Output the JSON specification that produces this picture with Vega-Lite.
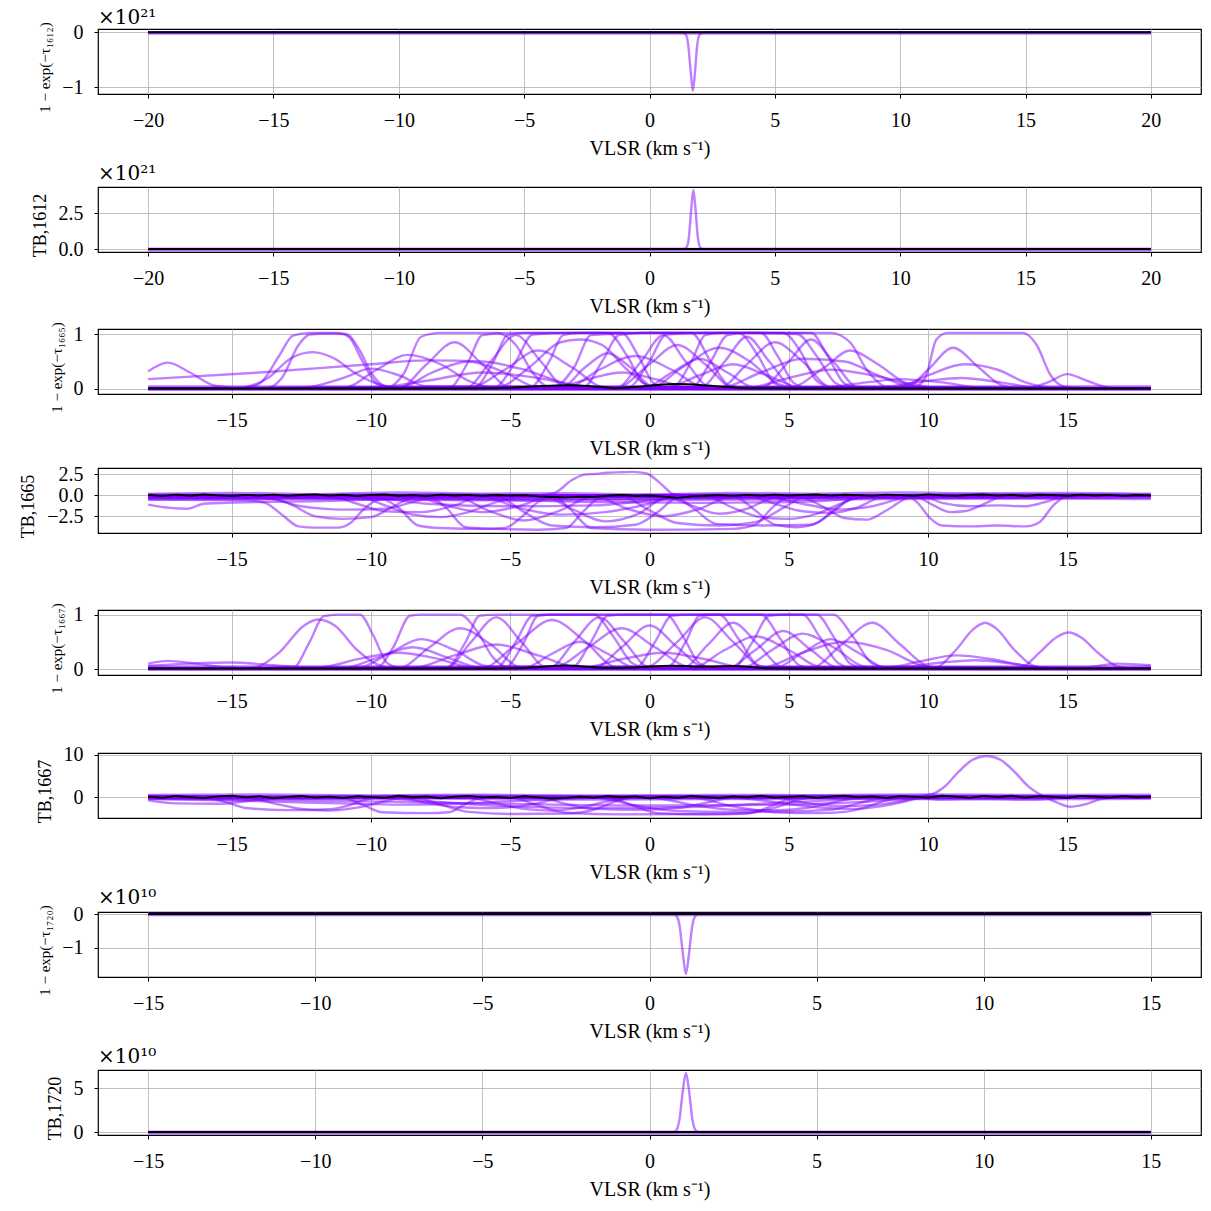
{
  "$schema": "https://vega.github.io/schema/vega-lite/v6.json",
  "autosize": {"type": "none"},
  "padding": {"left": 98, "top": 29, "right": 1113, "bottom": 1182},
  "spacing": 4,
  "config": {
    "font": "Liberation Serif",
    "view": {"stroke": "black", "strokeWidth": 1.2},
    "axis": {
      "grid": true, "gridColor": "#b0b0b0", "gridWidth": 0.8, "domain": false,
      "tickColor": "black", "tickSize": 4, "tickWidth": 1,
      "labelFont": "Liberation Serif", "labelFontSize": 20, "labelColor": "black",
      "labelPadding": 12, "labelFlush": false, "labelOverlap": false,
      "titleFont": "Liberation Serif", "titleFontSize": 20, "titleFontWeight": "normal",
      "titleColor": "black", "titlePadding": 8
    },
    "axisY": {"titleFontSize": 15, "titlePadding": 9, "labelPadding": 11, "titleY": 38},
    "title": {"font": "DejaVu Serif", "fontSize": 20, "fontWeight": "normal", "anchor": "start", "frame": "group", "baseline": "alphabetic", "offset": 2, "color": "black"}
  },
  "datasets": {
    "tau1612": [
      {"s":"obs","x":-20,"y":0},{"s":"obs","x":20,"y":0},
      {"s":"z1","x":-20,"y":0},{"s":"z1","x":20,"y":0},
      {"s":"z2","x":-20,"y":-0.025},{"s":"z2","x":20,"y":-0.025},
      {"s":"a","x":-20,"y":0},{"s":"a","x":1.3,"y":0},{"s":"a","x":1.45,"y":-0.04},{"s":"a","x":1.55,"y":-0.25},{"s":"a","x":1.65,"y":-0.75},{"s":"a","x":1.73,"y":-1.07},{"s":"a","x":1.81,"y":-0.75},{"s":"a","x":1.9,"y":-0.25},{"s":"a","x":2.0,"y":-0.04},{"s":"a","x":2.15,"y":0},{"s":"a","x":20,"y":0}
    ],
    "tb1612": [
      {"s":"obs","x":-20,"y":0},{"s":"obs","x":20,"y":0},
      {"s":"z1","x":-20,"y":0},{"s":"z1","x":20,"y":0},
      {"s":"z2","x":-20,"y":-0.08},{"s":"z2","x":20,"y":-0.08},
      {"s":"a","x":-20,"y":0},{"s":"a","x":1.35,"y":0},{"s":"a","x":1.47,"y":0.1},{"s":"a","x":1.57,"y":0.8},{"s":"a","x":1.67,"y":2.9},{"s":"a","x":1.75,"y":4.13},{"s":"a","x":1.83,"y":2.9},{"s":"a","x":1.93,"y":0.8},{"s":"a","x":2.03,"y":0.1},{"s":"a","x":2.15,"y":0},{"s":"a","x":20,"y":0}
    ],
    "tau1720": [
      {"s":"obs","x":-15,"y":0},{"s":"obs","x":15,"y":0},
      {"s":"z1","x":-15,"y":0},{"s":"z1","x":15,"y":0},
      {"s":"z2","x":-15,"y":-0.03},{"s":"z2","x":15,"y":-0.03},
      {"s":"a","x":-15,"y":0},{"s":"a","x":0.7,"y":0},{"s":"a","x":0.8,"y":-0.05},{"s":"a","x":0.9,"y":-0.35},{"s":"a","x":1.0,"y":-1.2},{"s":"a","x":1.09,"y":-1.79},{"s":"a","x":1.18,"y":-1.2},{"s":"a","x":1.28,"y":-0.35},{"s":"a","x":1.38,"y":-0.05},{"s":"a","x":1.48,"y":0},{"s":"a","x":15,"y":0}
    ],
    "tb1720": [
      {"s":"obs","x":-15,"y":0},{"s":"obs","x":15,"y":0},
      {"s":"z1","x":-15,"y":0},{"s":"z1","x":15,"y":0},
      {"s":"z2","x":-15,"y":-0.15},{"s":"z2","x":15,"y":-0.15},
      {"s":"a","x":-15,"y":0},{"s":"a","x":0.7,"y":0},{"s":"a","x":0.8,"y":0.2},{"s":"a","x":0.9,"y":1.5},{"s":"a","x":1.0,"y":4.8},{"s":"a","x":1.09,"y":6.73},{"s":"a","x":1.18,"y":4.8},{"s":"a","x":1.28,"y":1.5},{"s":"a","x":1.38,"y":0.2},{"s":"a","x":1.48,"y":0},{"s":"a","x":15,"y":0}
    ],
    "tau1665": [
      {"s":"obs","x":-18,"y":0.01},{"s":"obs","x":-7,"y":0.01},{"s":"obs","x":-5.5,"y":0.015},{"s":"obs","x":-4.2,"y":0.045},{"s":"obs","x":-3,"y":0.07},{"s":"obs","x":-1.8,"y":0.04},{"s":"obs","x":-1.2,"y":0.015},{"s":"obs","x":0,"y":0.06},{"s":"obs","x":1,"y":0.09},{"s":"obs","x":2.2,"y":0.06},{"s":"obs","x":3.5,"y":0.015},{"s":"obs","x":5,"y":0.01},{"s":"obs","x":18,"y":0.01},
      {"s":"z1","x":-18,"y":0},{"s":"z1","x":18,"y":0},
      {"s":"z2","x":-18,"y":0.025},{"s":"z2","x":18,"y":0.025},
      {"s":"z3","x":-18,"y":0.045},{"s":"z3","x":18,"y":0.045},
      {"s":"z4","x":-18,"y":-0.015},{"s":"z4","x":18,"y":-0.015},
      {"s":"a","x":-18,"y":0.32},{"s":"a","x":-17.3,"y":0.48},{"s":"a","x":-16.5,"y":0.3},{"s":"a","x":-15.6,"y":0.06},{"s":"a","x":-14.5,"y":0.01},{"s":"a","x":18,"y":0.01},
      {"s":"b","x":-18,"y":0.18},{"s":"b","x":-14,"y":0.3},{"s":"b","x":-10,"y":0.45},{"s":"b","x":-8,"y":0.52},{"s":"b","x":-6,"y":0.5},{"s":"b","x":-4.5,"y":0.35},{"s":"b","x":-3,"y":0.1},{"s":"b","x":-1.5,"y":0.01},{"s":"b","x":18,"y":0.01},
      {"s":"c","x":-18,"y":0.01},{"s":"c","x":-14.6,"y":0.01},{"s":"c","x":-14,"y":0.1},{"s":"c","x":-13.3,"y":0.6},{"s":"c","x":-12.8,"y":0.97},{"s":"c","x":-12.2,"y":1.02},{"s":"c","x":-11.2,"y":1.02},{"s":"c","x":-10.8,"y":0.95},{"s":"c","x":-10.3,"y":0.5},{"s":"c","x":-9.8,"y":0.1},{"s":"c","x":-9.2,"y":0.01},{"s":"c","x":18,"y":0.01},
      {"s":"d","x":-18,"y":0.01},{"s":"d","x":-13.8,"y":0.01},{"s":"d","x":-13.2,"y":0.2},{"s":"d","x":-12.6,"y":0.8},{"s":"d","x":-12.2,"y":0.99},{"s":"d","x":-11.5,"y":1.01},{"s":"d","x":-10.9,"y":1.0},{"s":"d","x":-10.4,"y":0.7},{"s":"d","x":-10,"y":0.3},{"s":"d","x":-9.5,"y":0.05},{"s":"d","x":-9,"y":0.01},{"s":"d","x":18,"y":0.01},
      {"s":"e","x":-18,"y":0.01},{"s":"e","x":-14.8,"y":0.02},{"s":"e","x":-13.7,"y":0.2},{"s":"e","x":-12.9,"y":0.55},{"s":"e","x":-12.1,"y":0.67},{"s":"e","x":-11.3,"y":0.55},{"s":"e","x":-10.6,"y":0.3},{"s":"e","x":-9.8,"y":0.1},{"s":"e","x":-9,"y":0.02},{"s":"e","x":18,"y":0.01},
      {"s":"f","x":-18,"y":0.01},{"s":"f","x":-12.5,"y":0.02},{"s":"f","x":-11,"y":0.2},{"s":"f","x":-10,"y":0.37},{"s":"f","x":-9,"y":0.25},{"s":"f","x":-8,"y":0.05},{"s":"f","x":18,"y":0.01},
      {"s":"g","x":-18,"y":0.01},{"s":"g","x":-11,"y":0.02},{"s":"g","x":-9.8,"y":0.35},{"s":"g","x":-8.7,"y":0.62},{"s":"g","x":-7.5,"y":0.45},{"s":"g","x":-6.5,"y":0.15},{"s":"g","x":-5.5,"y":0.02},{"s":"g","x":18,"y":0.01},
      {"s":"h","x":-18,"y":0.01},{"s":"h","x":-9.5,"y":0.01},{"s":"h","x":-8.8,"y":0.3},{"s":"h","x":-8.2,"y":0.95},{"s":"h","x":-7.5,"y":1.02},{"s":"h","x":-5.5,"y":1.02},{"s":"h","x":-4.8,"y":0.8},{"s":"h","x":-4.2,"y":0.3},{"s":"h","x":-3.6,"y":0.03},{"s":"h","x":18,"y":0.01},
      {"s":"i","x":-18,"y":0.01},{"s":"i","x":-7.2,"y":0.02},{"s":"i","x":-6.5,"y":0.5},{"s":"i","x":-6,"y":0.98},{"s":"i","x":-5,"y":1.02},{"s":"i","x":-1.5,"y":1.02},{"s":"i","x":-0.8,"y":0.6},{"s":"i","x":-0.2,"y":0.1},{"s":"i","x":0.5,"y":0.01},{"s":"i","x":18,"y":0.01},
      {"s":"j","x":-18,"y":0.01},{"s":"j","x":-5.6,"y":0.02},{"s":"j","x":-4.8,"y":0.5},{"s":"j","x":-4.2,"y":0.99},{"s":"j","x":-3,"y":1.02},{"s":"j","x":1.5,"y":1.02},{"s":"j","x":2.2,"y":0.5},{"s":"j","x":2.9,"y":0.05},{"s":"j","x":3.5,"y":0.01},{"s":"j","x":18,"y":0.01},
      {"s":"k","x":-18,"y":0.01},{"s":"k","x":-3.5,"y":0.02},{"s":"k","x":-2.7,"y":0.4},{"s":"k","x":-2.1,"y":0.98},{"s":"k","x":0,"y":1.02},{"s":"k","x":4.8,"y":1.02},{"s":"k","x":5.4,"y":0.7},{"s":"k","x":6,"y":0.15},{"s":"k","x":6.7,"y":0.01},{"s":"k","x":18,"y":0.01},
      {"s":"l","x":-18,"y":0.01},{"s":"l","x":-0.8,"y":0.02},{"s":"l","x":0,"y":0.5},{"s":"l","x":0.6,"y":0.99},{"s":"l","x":2,"y":1.02},{"s":"l","x":6.5,"y":1.02},{"s":"l","x":7.2,"y":0.85},{"s":"l","x":7.8,"y":0.35},{"s":"l","x":8.5,"y":0.04},{"s":"l","x":9.2,"y":0.01},{"s":"l","x":18,"y":0.01},
      {"s":"m","x":-18,"y":0.01},{"s":"m","x":-5.5,"y":0.02},{"s":"m","x":-4.3,"y":0.4},{"s":"m","x":-3.2,"y":0.85},{"s":"m","x":-2.5,"y":0.9},{"s":"m","x":-1.7,"y":0.8},{"s":"m","x":-0.8,"y":0.35},{"s":"m","x":0.2,"y":0.03},{"s":"m","x":18,"y":0.01},
      {"s":"n","x":-18,"y":0.01},{"s":"n","x":0,"y":0.02},{"s":"n","x":1.2,"y":0.4},{"s":"n","x":2.5,"y":0.75},{"s":"n","x":3.6,"y":0.5},{"s":"n","x":4.6,"y":0.1},{"s":"n","x":5.5,"y":0.01},{"s":"n","x":18,"y":0.01},
      {"s":"o","x":-18,"y":0.01},{"s":"o","x":1.8,"y":0.02},{"s":"o","x":2.7,"y":0.5},{"s":"o","x":3.5,"y":0.95},{"s":"o","x":4.3,"y":0.5},{"s":"o","x":5.2,"y":0.03},{"s":"o","x":18,"y":0.01},
      {"s":"p","x":-18,"y":0.01},{"s":"p","x":-3,"y":0.02},{"s":"p","x":-1.8,"y":0.35},{"s":"p","x":-0.5,"y":0.6},{"s":"p","x":0.8,"y":0.35},{"s":"p","x":2,"y":0.03},{"s":"p","x":18,"y":0.01},
      {"s":"q","x":-18,"y":0.01},{"s":"q","x":2.5,"y":0.02},{"s":"q","x":4,"y":0.3},{"s":"q","x":5.5,"y":0.55},{"s":"q","x":7,"y":0.5},{"s":"q","x":8.2,"y":0.25},{"s":"q","x":9.3,"y":0.05},{"s":"q","x":10,"y":0.01},{"s":"q","x":18,"y":0.01},
      {"s":"r","x":-18,"y":0.01},{"s":"r","x":-6.6,"y":0.02},{"s":"r","x":-5.7,"y":0.5},{"s":"r","x":-4.8,"y":0.98},{"s":"r","x":-3.9,"y":0.5},{"s":"r","x":-3,"y":0.03},{"s":"r","x":18,"y":0.01},
      {"s":"t","x":-18,"y":0.01},{"s":"t","x":-10,"y":0.02},{"s":"t","x":-8,"y":0.15},{"s":"t","x":-6,"y":0.3},{"s":"t","x":-4,"y":0.2},{"s":"t","x":-2,"y":0.02},{"s":"t","x":18,"y":0.01},
      {"s":"u","x":-18,"y":0.01},{"s":"u","x":-1.2,"y":0.02},{"s":"u","x":0,"y":0.45},{"s":"u","x":1,"y":0.8},{"s":"u","x":2,"y":0.45},{"s":"u","x":3,"y":0.03},{"s":"u","x":18,"y":0.01},
      {"s":"v","x":-18,"y":0.01},{"s":"v","x":1.5,"y":0.02},{"s":"v","x":2.2,"y":0.5},{"s":"v","x":2.8,"y":0.98},{"s":"v","x":3.5,"y":1.02},{"s":"v","x":5.3,"y":1.0},{"s":"v","x":6,"y":0.6},{"s":"v","x":6.7,"y":0.1},{"s":"v","x":7.3,"y":0.01},{"s":"v","x":18,"y":0.01},
      {"s":"w","x":-18,"y":0.01},{"s":"w","x":9.4,"y":0.01},{"s":"w","x":9.9,"y":0.2},{"s":"w","x":10.3,"y":0.9},{"s":"w","x":10.7,"y":1.02},{"s":"w","x":13.4,"y":1.02},{"s":"w","x":13.9,"y":0.8},{"s":"w","x":14.4,"y":0.25},{"s":"w","x":14.9,"y":0.04},{"s":"w","x":15.5,"y":0.01},{"s":"w","x":18,"y":0.01},
      {"s":"x","x":-18,"y":0.01},{"s":"x","x":9.2,"y":0.02},{"s":"x","x":10,"y":0.35},{"s":"x","x":10.9,"y":0.75},{"s":"x","x":11.8,"y":0.4},{"s":"x","x":12.6,"y":0.08},{"s":"x","x":13.3,"y":0.01},{"s":"x","x":18,"y":0.01},
      {"s":"y","x":-18,"y":0.01},{"s":"y","x":8.8,"y":0.02},{"s":"y","x":10,"y":0.25},{"s":"y","x":11.3,"y":0.45},{"s":"y","x":12.5,"y":0.35},{"s":"y","x":13.5,"y":0.12},{"s":"y","x":14.5,"y":0.02},{"s":"y","x":18,"y":0.01},
      {"s":"yy","x":-18,"y":0.01},{"s":"yy","x":8,"y":0.02},{"s":"yy","x":10,"y":0.15},{"s":"yy","x":11.2,"y":0.2},{"s":"yy","x":12.6,"y":0.12},{"s":"yy","x":14,"y":0.02},{"s":"yy","x":18,"y":0.01},
      {"s":"zz","x":-18,"y":0.01},{"s":"zz","x":13.5,"y":0.01},{"s":"zz","x":14.3,"y":0.12},{"s":"zz","x":15,"y":0.27},{"s":"zz","x":15.7,"y":0.15},{"s":"zz","x":16.6,"y":0.02},{"s":"zz","x":18,"y":0.01},
      {"s":"aa","x":-18,"y":0.01},{"s":"aa","x":5,"y":0.02},{"s":"aa","x":6.3,"y":0.4},{"s":"aa","x":7.2,"y":0.7},{"s":"aa","x":8.2,"y":0.45},{"s":"aa","x":9.3,"y":0.08},{"s":"aa","x":10.2,"y":0.01},{"s":"aa","x":18,"y":0.01},
      {"s":"ab","x":-18,"y":0.01},{"s":"ab","x":3.5,"y":0.02},{"s":"ab","x":5,"y":0.2},{"s":"ab","x":6.5,"y":0.35},{"s":"ab","x":8,"y":0.25},{"s":"ab","x":9.5,"y":0.08},{"s":"ab","x":10.5,"y":0.01},{"s":"ab","x":18,"y":0.01},
      {"s":"ac","x":-18,"y":0.01},{"s":"ac","x":6,"y":0.02},{"s":"ac","x":7.8,"y":0.12},{"s":"ac","x":9,"y":0.18},{"s":"ac","x":10.5,"y":0.12},{"s":"ac","x":12,"y":0.02},{"s":"ac","x":18,"y":0.01},
      {"s":"ad","x":-18,"y":0.01},{"s":"ad","x":-2.4,"y":0.02},{"s":"ad","x":-1.7,"y":0.5},{"s":"ad","x":-1.1,"y":0.98},{"s":"ad","x":-0.3,"y":1.02},{"s":"ad","x":3.2,"y":1.02},{"s":"ad","x":3.9,"y":0.6},{"s":"ad","x":4.5,"y":0.1},{"s":"ad","x":5.1,"y":0.01},{"s":"ad","x":18,"y":0.01},
      {"s":"ae","x":-18,"y":0.01},{"s":"ae","x":-9,"y":0.02},{"s":"ae","x":-7.8,"y":0.3},{"s":"ae","x":-6.5,"y":0.5},{"s":"ae","x":-5.2,"y":0.3},{"s":"ae","x":-4,"y":0.03},{"s":"ae","x":18,"y":0.01},
      {"s":"af","x":-18,"y":0.01},{"s":"af","x":2.5,"y":0.02},{"s":"af","x":3.5,"y":0.45},{"s":"af","x":4.5,"y":0.85},{"s":"af","x":5.5,"y":0.5},{"s":"af","x":6.5,"y":0.04},{"s":"af","x":18,"y":0.01},
      {"s":"ag","x":-18,"y":0.01},{"s":"ag","x":-3.2,"y":0.02},{"s":"ag","x":-2.3,"y":0.4},{"s":"ag","x":-1.5,"y":0.65},{"s":"ag","x":-0.7,"y":0.4},{"s":"ag","x":0.2,"y":0.02},{"s":"ag","x":18,"y":0.01},
      {"s":"ah","x":-18,"y":0.01},{"s":"ah","x":-6.3,"y":0.02},{"s":"ah","x":-5.6,"y":0.5},{"s":"ah","x":-5.1,"y":0.98},{"s":"ah","x":-4.5,"y":1.02},{"s":"ah","x":-1,"y":1.02},{"s":"ah","x":-0.4,"y":0.6},{"s":"ah","x":0.2,"y":0.08},{"s":"ah","x":0.8,"y":0.01},{"s":"ah","x":18,"y":0.01},
      {"s":"ai","x":-18,"y":0.01},{"s":"ai","x":-1.2,"y":0.02},{"s":"ai","x":-0.3,"y":0.5},{"s":"ai","x":0.5,"y":0.98},{"s":"ai","x":1.3,"y":0.5},{"s":"ai","x":2.2,"y":0.03},{"s":"ai","x":18,"y":0.01},
      {"s":"aj","x":-18,"y":0.01},{"s":"aj","x":-6.5,"y":0.02},{"s":"aj","x":-5.2,"y":0.35},{"s":"aj","x":-4,"y":0.7},{"s":"aj","x":-2.8,"y":0.4},{"s":"aj","x":-1.6,"y":0.03},{"s":"aj","x":18,"y":0.01},
      {"s":"ak","x":-18,"y":0.01},{"s":"ak","x":0.8,"y":0.02},{"s":"ak","x":1.5,"y":0.5},{"s":"ak","x":2,"y":0.98},{"s":"ak","x":2.6,"y":1.02},{"s":"ak","x":5.8,"y":1.02},{"s":"ak","x":6.4,"y":0.6},{"s":"ak","x":7,"y":0.1},{"s":"ak","x":7.6,"y":0.01},{"s":"ak","x":18,"y":0.01},
      {"s":"al","x":-18,"y":0.01},{"s":"al","x":0.5,"y":0.02},{"s":"al","x":1.8,"y":0.25},{"s":"al","x":3,"y":0.45},{"s":"al","x":4.2,"y":0.25},{"s":"al","x":5.5,"y":0.02},{"s":"al","x":18,"y":0.01},
      {"s":"am","x":-18,"y":0.01},{"s":"am","x":4,"y":0.02},{"s":"am","x":5,"y":0.5},{"s":"am","x":5.8,"y":0.9},{"s":"am","x":6.6,"y":0.5},{"s":"am","x":7.5,"y":0.03},{"s":"am","x":18,"y":0.01},
      {"s":"an","x":-18,"y":0.01},{"s":"an","x":-9,"y":0.02},{"s":"an","x":-8,"y":0.45},{"s":"an","x":-7,"y":0.85},{"s":"an","x":-6,"y":0.45},{"s":"an","x":-5,"y":0.03},{"s":"an","x":18,"y":0.01},
      {"s":"ao","x":-18,"y":0.01},{"s":"ao","x":-4.3,"y":0.02},{"s":"ao","x":-3.6,"y":0.5},{"s":"ao","x":-3.1,"y":0.98},{"s":"ao","x":-2.5,"y":1.02},{"s":"ao","x":4,"y":1.02},{"s":"ao","x":4.6,"y":0.6},{"s":"ao","x":5.2,"y":0.1},{"s":"ao","x":5.8,"y":0.01},{"s":"ao","x":18,"y":0.01},
      {"s":"ap","x":-18,"y":0.01},{"s":"ap","x":-3.5,"y":0.02},{"s":"ap","x":-2.2,"y":0.18},{"s":"ap","x":-1,"y":0.3},{"s":"ap","x":0.2,"y":0.18},{"s":"ap","x":1.5,"y":0.02},{"s":"ap","x":18,"y":0.01},
      {"s":"aq","x":-18,"y":0.01},{"s":"aq","x":-0.2,"y":0.02},{"s":"aq","x":0.8,"y":0.3},{"s":"aq","x":1.8,"y":0.55},{"s":"aq","x":2.8,"y":0.3},{"s":"aq","x":3.8,"y":0.02},{"s":"aq","x":18,"y":0.01}
    ],
    "tau1667": [
      {"s":"obs","x":-18,"y":0.01},{"s":"obs","x":-5.5,"y":0.01},{"s":"obs","x":-4.5,"y":0.02},{"s":"obs","x":-3,"y":0.065},{"s":"obs","x":-1.5,"y":0.02},{"s":"obs","x":-0.5,"y":0.03},{"s":"obs","x":0.8,"y":0.06},{"s":"obs","x":2.1,"y":0.045},{"s":"obs","x":3,"y":0.055},{"s":"obs","x":4.2,"y":0.015},{"s":"obs","x":5.5,"y":0.01},{"s":"obs","x":18,"y":0.01},
      {"s":"z1","x":-18,"y":0},{"s":"z1","x":18,"y":0},
      {"s":"z2","x":-18,"y":0.025},{"s":"z2","x":18,"y":0.025},
      {"s":"z3","x":-18,"y":0.045},{"s":"z3","x":18,"y":0.045},
      {"s":"z4","x":-18,"y":-0.015},{"s":"z4","x":18,"y":-0.015},
      {"s":"a","x":-18,"y":0.1},{"s":"a","x":-17.3,"y":0.15},{"s":"a","x":-16.3,"y":0.1},{"s":"a","x":-15.2,"y":0.03},{"s":"a","x":-14,"y":0.01},{"s":"a","x":18,"y":0.01},
      {"s":"b","x":-18,"y":0.06},{"s":"b","x":-16.5,"y":0.1},{"s":"b","x":-15,"y":0.12},{"s":"b","x":-13.5,"y":0.07},{"s":"b","x":-12,"y":0.02},{"s":"b","x":18,"y":0.01},
      {"s":"c","x":-18,"y":0.01},{"s":"c","x":-14.3,"y":0.02},{"s":"c","x":-13.3,"y":0.3},{"s":"c","x":-12.4,"y":0.8},{"s":"c","x":-11.9,"y":0.91},{"s":"c","x":-11.3,"y":0.8},{"s":"c","x":-10.5,"y":0.35},{"s":"c","x":-9.6,"y":0.05},{"s":"c","x":-9,"y":0.01},{"s":"c","x":18,"y":0.01},
      {"s":"d","x":-18,"y":0.01},{"s":"d","x":-12.8,"y":0.02},{"s":"d","x":-12.2,"y":0.5},{"s":"d","x":-11.7,"y":0.97},{"s":"d","x":-11.2,"y":1.0},{"s":"d","x":-10.4,"y":1.0},{"s":"d","x":-9.9,"y":0.6},{"s":"d","x":-9.4,"y":0.1},{"s":"d","x":-8.8,"y":0.01},{"s":"d","x":18,"y":0.01},
      {"s":"e","x":-18,"y":0.01},{"s":"e","x":-12,"y":0.02},{"s":"e","x":-10.3,"y":0.2},{"s":"e","x":-9,"y":0.3},{"s":"e","x":-7.7,"y":0.2},{"s":"e","x":-6.3,"y":0.03},{"s":"e","x":18,"y":0.01},
      {"s":"f","x":-18,"y":0.01},{"s":"f","x":-9.8,"y":0.02},{"s":"f","x":-9.2,"y":0.4},{"s":"f","x":-8.6,"y":0.98},{"s":"f","x":-8.2,"y":1.0},{"s":"f","x":-6.8,"y":1.0},{"s":"f","x":-6.2,"y":0.7},{"s":"f","x":-5.6,"y":0.2},{"s":"f","x":-5,"y":0.02},{"s":"f","x":18,"y":0.01},
      {"s":"g","x":-18,"y":0.01},{"s":"g","x":-10.5,"y":0.02},{"s":"g","x":-9.3,"y":0.3},{"s":"g","x":-8.2,"y":0.55},{"s":"g","x":-7,"y":0.35},{"s":"g","x":-5.8,"y":0.05},{"s":"g","x":18,"y":0.01},
      {"s":"h","x":-18,"y":0.01},{"s":"h","x":-7.3,"y":0.02},{"s":"h","x":-6.6,"y":0.5},{"s":"h","x":-6.1,"y":0.98},{"s":"h","x":-5.5,"y":1.0},{"s":"h","x":-2,"y":1.0},{"s":"h","x":-1.3,"y":0.6},{"s":"h","x":-0.6,"y":0.1},{"s":"h","x":0,"y":0.01},{"s":"h","x":18,"y":0.01},
      {"s":"i","x":-18,"y":0.01},{"s":"i","x":-5.5,"y":0.02},{"s":"i","x":-4.8,"y":0.5},{"s":"i","x":-4.2,"y":0.98},{"s":"i","x":-3.5,"y":1.0},{"s":"i","x":2.5,"y":1.0},{"s":"i","x":3.2,"y":0.55},{"s":"i","x":3.9,"y":0.07},{"s":"i","x":4.5,"y":0.01},{"s":"i","x":18,"y":0.01},
      {"s":"j","x":-18,"y":0.01},{"s":"j","x":-2.8,"y":0.02},{"s":"j","x":-2.1,"y":0.5},{"s":"j","x":-1.5,"y":0.98},{"s":"j","x":-0.8,"y":1.0},{"s":"j","x":5.5,"y":1.0},{"s":"j","x":6.1,"y":0.6},{"s":"j","x":6.8,"y":0.1},{"s":"j","x":7.4,"y":0.01},{"s":"j","x":18,"y":0.01},
      {"s":"k","x":-18,"y":0.01},{"s":"k","x":-0.5,"y":0.02},{"s":"k","x":0.2,"y":0.5},{"s":"k","x":0.8,"y":0.98},{"s":"k","x":1.5,"y":1.0},{"s":"k","x":4,"y":1.0},{"s":"k","x":4.7,"y":0.55},{"s":"k","x":5.4,"y":0.06},{"s":"k","x":6,"y":0.01},{"s":"k","x":18,"y":0.01},
      {"s":"l","x":-18,"y":0.01},{"s":"l","x":-6,"y":0.02},{"s":"l","x":-4.8,"y":0.45},{"s":"l","x":-3.5,"y":0.9},{"s":"l","x":-2.3,"y":0.5},{"s":"l","x":-1.2,"y":0.04},{"s":"l","x":18,"y":0.01},
      {"s":"m","x":-18,"y":0.01},{"s":"m","x":-3.5,"y":0.02},{"s":"m","x":-2.2,"y":0.4},{"s":"m","x":-1,"y":0.75},{"s":"m","x":0.2,"y":0.4},{"s":"m","x":1.5,"y":0.03},{"s":"m","x":18,"y":0.01},
      {"s":"n","x":-18,"y":0.01},{"s":"n","x":-0.2,"y":0.02},{"s":"n","x":1,"y":0.5},{"s":"n","x":2,"y":0.95},{"s":"n","x":3,"y":0.5},{"s":"n","x":4.1,"y":0.03},{"s":"n","x":18,"y":0.01},
      {"s":"o","x":-18,"y":0.01},{"s":"o","x":1.5,"y":0.02},{"s":"o","x":2.7,"y":0.35},{"s":"o","x":3.8,"y":0.6},{"s":"o","x":5,"y":0.35},{"s":"o","x":6.2,"y":0.03},{"s":"o","x":18,"y":0.01},
      {"s":"p","x":-18,"y":0.01},{"s":"p","x":5.8,"y":0.02},{"s":"p","x":6.9,"y":0.45},{"s":"p","x":8,"y":0.85},{"s":"p","x":9,"y":0.45},{"s":"p","x":10,"y":0.05},{"s":"p","x":10.6,"y":0.01},{"s":"p","x":18,"y":0.01},
      {"s":"q","x":-18,"y":0.01},{"s":"q","x":3,"y":0.02},{"s":"q","x":3.7,"y":0.5},{"s":"q","x":4.3,"y":0.98},{"s":"q","x":5,"y":1.0},{"s":"q","x":6.6,"y":1.0},{"s":"q","x":7.3,"y":0.6},{"s":"q","x":8,"y":0.1},{"s":"q","x":8.7,"y":0.01},{"s":"q","x":18,"y":0.01},
      {"s":"r","x":-18,"y":0.01},{"s":"r","x":-8.5,"y":0.02},{"s":"r","x":-7,"y":0.25},{"s":"r","x":-5.5,"y":0.45},{"s":"r","x":-4,"y":0.25},{"s":"r","x":-2.5,"y":0.02},{"s":"r","x":18,"y":0.01},
      {"s":"t","x":-18,"y":0.01},{"s":"t","x":3.3,"y":0.02},{"s":"t","x":4.4,"y":0.35},{"s":"t","x":5.5,"y":0.65},{"s":"t","x":6.6,"y":0.4},{"s":"t","x":7.8,"y":0.04},{"s":"t","x":18,"y":0.01},
      {"s":"u","x":-18,"y":0.01},{"s":"u","x":-2.5,"y":0.02},{"s":"u","x":-1,"y":0.18},{"s":"u","x":0.5,"y":0.3},{"s":"u","x":2,"y":0.18},{"s":"u","x":3.5,"y":0.02},{"s":"u","x":18,"y":0.01},
      {"s":"v","x":-18,"y":0.01},{"s":"v","x":4,"y":0.02},{"s":"v","x":5.5,"y":0.3},{"s":"v","x":7,"y":0.5},{"s":"v","x":8.5,"y":0.35},{"s":"v","x":9.8,"y":0.06},{"s":"v","x":10.6,"y":0.01},{"s":"v","x":18,"y":0.01},
      {"s":"w","x":-18,"y":0.01},{"s":"w","x":-9,"y":0.02},{"s":"w","x":-7.9,"y":0.4},{"s":"w","x":-6.8,"y":0.75},{"s":"w","x":-5.7,"y":0.45},{"s":"w","x":-4.6,"y":0.03},{"s":"w","x":18,"y":0.01},
      {"s":"x","x":-18,"y":0.01},{"s":"x","x":10.2,"y":0.02},{"s":"x","x":11,"y":0.35},{"s":"x","x":11.6,"y":0.72},{"s":"x","x":12.05,"y":0.85},{"s":"x","x":12.5,"y":0.72},{"s":"x","x":13.1,"y":0.35},{"s":"x","x":13.9,"y":0.04},{"s":"x","x":14.5,"y":0.01},{"s":"x","x":18,"y":0.01},
      {"s":"y","x":-18,"y":0.01},{"s":"y","x":13.3,"y":0.02},{"s":"y","x":14,"y":0.3},{"s":"y","x":14.6,"y":0.58},{"s":"y","x":15.05,"y":0.67},{"s":"y","x":15.5,"y":0.58},{"s":"y","x":16.1,"y":0.3},{"s":"y","x":16.8,"y":0.05},{"s":"y","x":17.4,"y":0.01},{"s":"y","x":18,"y":0.01},
      {"s":"yy","x":-18,"y":0.01},{"s":"yy","x":8.5,"y":0.03},{"s":"yy","x":9.8,"y":0.15},{"s":"yy","x":11,"y":0.25},{"s":"yy","x":12.3,"y":0.18},{"s":"yy","x":13.5,"y":0.06},{"s":"yy","x":14.5,"y":0.02},{"s":"yy","x":18,"y":0.01},
      {"s":"zz","x":-18,"y":0.01},{"s":"zz","x":9,"y":0.04},{"s":"zz","x":10.5,"y":0.12},{"s":"zz","x":11.7,"y":0.16},{"s":"zz","x":13,"y":0.1},{"s":"zz","x":14,"y":0.03},{"s":"zz","x":18,"y":0.01},
      {"s":"aa","x":-18,"y":0.01},{"s":"aa","x":15.5,"y":0.02},{"s":"aa","x":16.8,"y":0.1},{"s":"aa","x":18,"y":0.07},
      {"s":"ah","x":-18,"y":0.01},{"s":"ah","x":-5.2,"y":0.02},{"s":"ah","x":-4.5,"y":0.5},{"s":"ah","x":-4,"y":0.98},{"s":"ah","x":-3.4,"y":1.0},{"s":"ah","x":0.6,"y":1.0},{"s":"ah","x":1.2,"y":0.6},{"s":"ah","x":1.8,"y":0.1},{"s":"ah","x":2.4,"y":0.01},{"s":"ah","x":18,"y":0.01},
      {"s":"ai","x":-18,"y":0.01},{"s":"ai","x":-7.3,"y":0.02},{"s":"ai","x":-6.4,"y":0.5},{"s":"ai","x":-5.5,"y":0.95},{"s":"ai","x":-4.6,"y":0.5},{"s":"ai","x":-3.7,"y":0.03},{"s":"ai","x":18,"y":0.01},
      {"s":"aj","x":-18,"y":0.01},{"s":"aj","x":-2,"y":0.02},{"s":"aj","x":-1,"y":0.4},{"s":"aj","x":0,"y":0.8},{"s":"aj","x":1,"y":0.4},{"s":"aj","x":2,"y":0.03},{"s":"aj","x":18,"y":0.01},
      {"s":"ak","x":-18,"y":0.01},{"s":"ak","x":2.8,"y":0.02},{"s":"ak","x":3.8,"y":0.35},{"s":"ak","x":4.8,"y":0.7},{"s":"ak","x":5.8,"y":0.35},{"s":"ak","x":6.8,"y":0.02},{"s":"ak","x":18,"y":0.01},
      {"s":"al","x":-18,"y":0.01},{"s":"al","x":0.6,"y":0.02},{"s":"al","x":1.3,"y":0.5},{"s":"al","x":1.8,"y":0.98},{"s":"al","x":2.4,"y":1.0},{"s":"al","x":6,"y":1.0},{"s":"al","x":6.6,"y":0.6},{"s":"al","x":7.2,"y":0.1},{"s":"al","x":7.8,"y":0.01},{"s":"al","x":18,"y":0.01},
      {"s":"am","x":-18,"y":0.01},{"s":"am","x":-4.5,"y":0.02},{"s":"am","x":-3.5,"y":0.28},{"s":"am","x":-2.5,"y":0.5},{"s":"am","x":-1.5,"y":0.28},{"s":"am","x":-0.5,"y":0.02},{"s":"am","x":18,"y":0.01},
      {"s":"an","x":-18,"y":0.01},{"s":"an","x":1.2,"y":0.02},{"s":"an","x":2.1,"y":0.45},{"s":"an","x":3,"y":0.85},{"s":"an","x":3.9,"y":0.45},{"s":"an","x":4.8,"y":0.03},{"s":"an","x":18,"y":0.01},
      {"s":"ao","x":-18,"y":0.01},{"s":"ao","x":-11,"y":0.02},{"s":"ao","x":-9.8,"y":0.2},{"s":"ao","x":-8.5,"y":0.4},{"s":"ao","x":-7.2,"y":0.2},{"s":"ao","x":-6,"y":0.02},{"s":"ao","x":18,"y":0.01},
      {"s":"ap","x":-18,"y":0.01},{"s":"ap","x":4.5,"y":0.02},{"s":"ap","x":5.5,"y":0.3},{"s":"ap","x":6.5,"y":0.55},{"s":"ap","x":7.5,"y":0.3},{"s":"ap","x":8.5,"y":0.02},{"s":"ap","x":18,"y":0.01},
      {"s":"aq","x":-18,"y":0.01},{"s":"aq","x":-3.6,"y":0.02},{"s":"aq","x":-2.7,"y":0.5},{"s":"aq","x":-1.8,"y":0.95},{"s":"aq","x":-0.9,"y":0.5},{"s":"aq","x":0,"y":0.03},{"s":"aq","x":18,"y":0.01}
    ],
    "tb1665": [
      {"s":"obs","x":-18,"y":0.05},{"s":"obs","x":-17.5,"y":-0.1},{"s":"obs","x":-17,"y":0.08},{"s":"obs","x":-16.5,"y":-0.05},{"s":"obs","x":-16,"y":0.1},{"s":"obs","x":-15.5,"y":0},{"s":"obs","x":-15,"y":-0.08},{"s":"obs","x":-14.5,"y":0.06},{"s":"obs","x":-14,"y":-0.03},{"s":"obs","x":-13.5,"y":0.09},{"s":"obs","x":-13,"y":-0.06},{"s":"obs","x":-12.5,"y":0.04},{"s":"obs","x":-12,"y":0.12},{"s":"obs","x":-11.5,"y":-0.04},{"s":"obs","x":-11,"y":0.07},{"s":"obs","x":-10.5,"y":-0.09},{"s":"obs","x":-10,"y":0.05},{"s":"obs","x":-9.5,"y":0.1},{"s":"obs","x":-9,"y":-0.05},{"s":"obs","x":-8.5,"y":0.03},{"s":"obs","x":-8,"y":-0.1},{"s":"obs","x":-7.5,"y":0.08},{"s":"obs","x":-7,"y":-0.02},{"s":"obs","x":-6.5,"y":0.06},{"s":"obs","x":-6,"y":-0.07},{"s":"obs","x":-5.5,"y":0.04},{"s":"obs","x":-5,"y":-0.03},{"s":"obs","x":-4.5,"y":0.02},{"s":"obs","x":-4,"y":-0.12},{"s":"obs","x":-3.5,"y":-0.2},{"s":"obs","x":-3,"y":-0.25},{"s":"obs","x":-2.5,"y":-0.15},{"s":"obs","x":-2,"y":-0.18},{"s":"obs","x":-1.5,"y":-0.05},{"s":"obs","x":-1,"y":0.04},{"s":"obs","x":-0.5,"y":-0.08},{"s":"obs","x":0,"y":-0.02},{"s":"obs","x":0.5,"y":-0.15},{"s":"obs","x":1,"y":-0.3},{"s":"obs","x":1.5,"y":-0.12},{"s":"obs","x":2,"y":-0.05},{"s":"obs","x":2.5,"y":0.03},{"s":"obs","x":3,"y":-0.06},{"s":"obs","x":3.5,"y":0.05},{"s":"obs","x":4,"y":-0.04},{"s":"obs","x":4.5,"y":0.08},{"s":"obs","x":5,"y":-0.03},{"s":"obs","x":5.5,"y":0.06},{"s":"obs","x":6,"y":0.1},{"s":"obs","x":6.5,"y":-0.04},{"s":"obs","x":7,"y":0.07},{"s":"obs","x":7.5,"y":0.02},{"s":"obs","x":8,"y":-0.06},{"s":"obs","x":8.5,"y":0.09},{"s":"obs","x":9,"y":0.03},{"s":"obs","x":9.5,"y":-0.05},{"s":"obs","x":10,"y":0.11},{"s":"obs","x":10.5,"y":0},{"s":"obs","x":11,"y":-0.07},{"s":"obs","x":11.5,"y":0.06},{"s":"obs","x":12,"y":0.1},{"s":"obs","x":12.5,"y":-0.03},{"s":"obs","x":13,"y":0.05},{"s":"obs","x":13.5,"y":-0.08},{"s":"obs","x":14,"y":0.07},{"s":"obs","x":14.5,"y":0.02},{"s":"obs","x":15,"y":-0.05},{"s":"obs","x":15.5,"y":0.09},{"s":"obs","x":16,"y":-0.02},{"s":"obs","x":16.5,"y":0.06},{"s":"obs","x":17,"y":-0.07},{"s":"obs","x":17.5,"y":0.04},{"s":"obs","x":18,"y":0},
      {"s":"n1","x":-18,"y":0.2},{"s":"n1","x":-15,"y":0.3},{"s":"n1","x":-12,"y":0.15},{"s":"n1","x":-9,"y":0.35},{"s":"n1","x":-6,"y":0.2},{"s":"n1","x":-3,"y":0.25},{"s":"n1","x":0,"y":0.1},{"s":"n1","x":3,"y":0.3},{"s":"n1","x":6,"y":0.2},{"s":"n1","x":9,"y":0.35},{"s":"n1","x":12,"y":0.25},{"s":"n1","x":15,"y":0.3},{"s":"n1","x":18,"y":0.2},
      {"s":"n2","x":-18,"y":-0.2},{"s":"n2","x":-14,"y":-0.3},{"s":"n2","x":-10,"y":-0.15},{"s":"n2","x":-6,"y":-0.35},{"s":"n2","x":-2,"y":-0.4},{"s":"n2","x":2,"y":-0.3},{"s":"n2","x":6,"y":-0.25},{"s":"n2","x":10,"y":-0.2},{"s":"n2","x":14,"y":-0.3},{"s":"n2","x":18,"y":-0.2},
      {"s":"n3","x":-18,"y":0},{"s":"n3","x":18,"y":0},
      {"s":"n4","x":-18,"y":-0.5},{"s":"n4","x":-12,"y":-0.45},{"s":"n4","x":-6,"y":-0.6},{"s":"n4","x":0,"y":-0.55},{"s":"n4","x":6,"y":-0.5},{"s":"n4","x":12,"y":-0.4},{"s":"n4","x":18,"y":-0.45},
      {"s":"n5","x":-18,"y":0.1},{"s":"n5","x":-13,"y":0.05},{"s":"n5","x":-8,"y":0.15},{"s":"n5","x":-3,"y":0},{"s":"n5","x":2,"y":0.1},{"s":"n5","x":7,"y":0.05},{"s":"n5","x":12,"y":0.15},{"s":"n5","x":18,"y":0.1},
      {"s":"n6","x":-18,"y":-0.35},{"s":"n6","x":-12,"y":-0.3},{"s":"n6","x":-6,"y":-0.45},{"s":"n6","x":0,"y":-0.4},{"s":"n6","x":6,"y":-0.35},{"s":"n6","x":12,"y":-0.3},{"s":"n6","x":18,"y":-0.3},
      {"s":"up","x":-18,"y":0},{"s":"up","x":-4,"y":0},{"s":"up","x":-3.4,"y":0.3},{"s":"up","x":-2.8,"y":1.8},{"s":"up","x":-2.3,"y":2.5},{"s":"up","x":-2,"y":2.55},{"s":"up","x":-1.5,"y":2.7},{"s":"up","x":-1,"y":2.75},{"s":"up","x":-0.6,"y":2.8},{"s":"up","x":-0.1,"y":2.6},{"s":"up","x":0.4,"y":1.4},{"s":"up","x":0.9,"y":0.1},{"s":"up","x":1.3,"y":0},{"s":"up","x":18,"y":0},
      {"s":"r1","x":-18,"y":0},{"s":"r1","x":9.2,"y":0},{"s":"r1","x":9.6,"y":-0.8},{"s":"r1","x":10.1,"y":-2.8},{"s":"r1","x":10.5,"y":-3.6},{"s":"r1","x":11.5,"y":-3.7},{"s":"r1","x":12.5,"y":-3.6},{"s":"r1","x":13.5,"y":-3.7},{"s":"r1","x":14,"y":-3.2},{"s":"r1","x":14.5,"y":-1.2},{"s":"r1","x":14.9,"y":-0.2},{"s":"r1","x":15.3,"y":0},{"s":"r1","x":18,"y":0},
      {"s":"r2","x":-18,"y":0},{"s":"r2","x":9.5,"y":-0.1},{"s":"r2","x":10.2,"y":-1.2},{"s":"r2","x":10.8,"y":-2},{"s":"r2","x":11.3,"y":-1.9},{"s":"r2","x":11.9,"y":-1.2},{"s":"r2","x":12.5,"y":-0.3},{"s":"r2","x":13,"y":0},{"s":"r2","x":18,"y":0},
      {"s":"r3","x":-18,"y":0},{"s":"r3","x":9.8,"y":-0.1},{"s":"r3","x":10.5,"y":-0.9},{"s":"r3","x":11.5,"y":-1.3},{"s":"r3","x":12.5,"y":-1.2},{"s":"r3","x":13.5,"y":-1.3},{"s":"r3","x":14.3,"y":-0.7},{"s":"r3","x":15,"y":-0.1},{"s":"r3","x":18,"y":0},
      {"s":"l1","x":-18,"y":-1.1},{"s":"l1","x":-17.2,"y":-1.5},{"s":"l1","x":-16.6,"y":-1.6},{"s":"l1","x":-16,"y":-1},{"s":"l1","x":-14,"y":-0.8},{"s":"l1","x":-12,"y":-0.7},{"s":"l1","x":-10,"y":-0.5},{"s":"l1","x":-8,"y":-0.2},{"s":"l1","x":-6,"y":0},{"s":"l1","x":18,"y":0},
      {"s":"l2","x":-18,"y":-0.5},{"s":"l2","x":-14.5,"y":-0.6},{"s":"l2","x":-13.8,"y":-0.9},{"s":"l2","x":-13.2,"y":-2.3},{"s":"l2","x":-12.6,"y":-3.7},{"s":"l2","x":-12,"y":-3.85},{"s":"l2","x":-11.2,"y":-3.85},{"s":"l2","x":-10.7,"y":-3.2},{"s":"l2","x":-10.3,"y":-1.8},{"s":"l2","x":-9.8,"y":-0.6},{"s":"l2","x":-9,"y":-0.3},{"s":"l2","x":18,"y":0},
      {"s":"l3","x":-18,"y":-0.3},{"s":"l3","x":-13.5,"y":-0.4},{"s":"l3","x":-12.8,"y":-1.2},{"s":"l3","x":-12,"y":-2.5},{"s":"l3","x":-11,"y":-2.8},{"s":"l3","x":-10,"y":-2.6},{"s":"l3","x":-9.3,"y":-1.5},{"s":"l3","x":-8.7,"y":-0.5},{"s":"l3","x":-8,"y":-0.1},{"s":"l3","x":18,"y":0},
      {"s":"l4","x":-18,"y":0},{"s":"l4","x":-14,"y":-0.2},{"s":"l4","x":-12.5,"y":-1.3},{"s":"l4","x":-11,"y":-1.7},{"s":"l4","x":-9.5,"y":-1.6},{"s":"l4","x":-8.5,"y":-0.8},{"s":"l4","x":-7.5,"y":-0.1},{"s":"l4","x":18,"y":0},
      {"s":"c1","x":-18,"y":0},{"s":"c1","x":-8,"y":0},{"s":"c1","x":-7.3,"y":-1.5},{"s":"c1","x":-6.6,"y":-3.8},{"s":"c1","x":-5.5,"y":-4},{"s":"c1","x":-4,"y":-4.1},{"s":"c1","x":-3,"y":-3.9},{"s":"c1","x":-2.4,"y":-2},{"s":"c1","x":-1.8,"y":-0.3},{"s":"c1","x":-1.2,"y":0},{"s":"c1","x":18,"y":0},
      {"s":"c2","x":-18,"y":0},{"s":"c2","x":-3.5,"y":0},{"s":"c2","x":-2.8,"y":-1.8},{"s":"c2","x":-2.1,"y":-3.9},{"s":"c2","x":0,"y":-4.1},{"s":"c2","x":3,"y":-4},{"s":"c2","x":3.8,"y":-3.5},{"s":"c2","x":4.4,"y":-1.5},{"s":"c2","x":5,"y":-0.2},{"s":"c2","x":18,"y":0},
      {"s":"c3","x":-18,"y":0},{"s":"c3","x":0.8,"y":0},{"s":"c3","x":1.6,"y":-1.6},{"s":"c3","x":2.4,"y":-3.4},{"s":"c3","x":4,"y":-3.6},{"s":"c3","x":5.8,"y":-3.5},{"s":"c3","x":6.5,"y":-2.2},{"s":"c3","x":7.2,"y":-0.5},{"s":"c3","x":7.8,"y":0},{"s":"c3","x":18,"y":0},
      {"s":"c4","x":-18,"y":0},{"s":"c4","x":-7,"y":-0.1},{"s":"c4","x":-5.8,"y":-1.8},{"s":"c4","x":-4.5,"y":-3},{"s":"c4","x":-3.2,"y":-1.8},{"s":"c4","x":-2,"y":-0.1},{"s":"c4","x":18,"y":0},
      {"s":"c5","x":-18,"y":0},{"s":"c5","x":-2,"y":-0.1},{"s":"c5","x":-0.8,"y":-1.6},{"s":"c5","x":0.5,"y":-2.5},{"s":"c5","x":1.8,"y":-1.6},{"s":"c5","x":3,"y":-0.1},{"s":"c5","x":18,"y":0},
      {"s":"c6","x":-18,"y":0},{"s":"c6","x":3,"y":-0.1},{"s":"c6","x":3.8,"y":-1.8},{"s":"c6","x":4.5,"y":-3.5},{"s":"c6","x":5.3,"y":-3.8},{"s":"c6","x":6,"y":-3.3},{"s":"c6","x":6.7,"y":-1.5},{"s":"c6","x":7.4,"y":-0.2},{"s":"c6","x":18,"y":0},
      {"s":"c7","x":-18,"y":0},{"s":"c7","x":4,"y":-0.1},{"s":"c7","x":5.5,"y":-1},{"s":"c7","x":6.8,"y":-1.7},{"s":"c7","x":8,"y":-1.3},{"s":"c7","x":9,"y":-0.4},{"s":"c7","x":9.6,"y":0},{"s":"c7","x":18,"y":0},
      {"s":"c8","x":-18,"y":0},{"s":"c8","x":-10.5,"y":-0.1},{"s":"c8","x":-9.5,"y":-1.2},{"s":"c8","x":-8.5,"y":-2.3},{"s":"c8","x":-7.5,"y":-2.6},{"s":"c8","x":-6.5,"y":-2},{"s":"c8","x":-5.5,"y":-0.8},{"s":"c8","x":-4.5,"y":-0.1},{"s":"c8","x":18,"y":0},
      {"s":"c9","x":-18,"y":-0.1},{"s":"c9","x":-9.8,"y":-0.2},{"s":"c9","x":-9,"y":-1.5},{"s":"c9","x":-8.3,"y":-3.6},{"s":"c9","x":-7.5,"y":-3.9},{"s":"c9","x":-6,"y":-4},{"s":"c9","x":-5.2,"y":-3.9},{"s":"c9","x":-4.6,"y":-2.6},{"s":"c9","x":-4,"y":-0.8},{"s":"c9","x":-3.4,"y":-0.1},{"s":"c9","x":18,"y":0},
      {"s":"c10","x":-18,"y":-0.2},{"s":"c10","x":-10,"y":-0.3},{"s":"c10","x":-8,"y":-1},{"s":"c10","x":-5,"y":-1.3},{"s":"c10","x":-2,"y":-1.2},{"s":"c10","x":0,"y":-0.6},{"s":"c10","x":1.5,"y":-0.1},{"s":"c10","x":18,"y":0},
      {"s":"c11","x":-18,"y":0},{"s":"c11","x":0.5,"y":-0.1},{"s":"c11","x":1.5,"y":-1.2},{"s":"c11","x":2.5,"y":-2.2},{"s":"c11","x":3.5,"y":-1.6},{"s":"c11","x":4.5,"y":-0.3},{"s":"c11","x":18,"y":0},
      {"s":"c12","x":-18,"y":0},{"s":"c12","x":-3.8,"y":-0.1},{"s":"c12","x":-2.8,"y":-1.6},{"s":"c12","x":-1.6,"y":-3.1},{"s":"c12","x":-0.4,"y":-2.2},{"s":"c12","x":0.6,"y":-0.3},{"s":"c12","x":18,"y":0},
      {"s":"c13","x":-18,"y":0},{"s":"c13","x":5.3,"y":-0.1},{"s":"c13","x":6.2,"y":-1.3},{"s":"c13","x":7,"y":-2.7},{"s":"c13","x":7.8,"y":-2.9},{"s":"c13","x":8.5,"y":-1.8},{"s":"c13","x":9.2,"y":-0.4},{"s":"c13","x":9.8,"y":0},{"s":"c13","x":18,"y":0},
      {"s":"c14","x":-18,"y":-0.3},{"s":"c14","x":-6,"y":-0.5},{"s":"c14","x":-2,"y":-0.8},{"s":"c14","x":2,"y":-0.9},{"s":"c14","x":6,"y":-0.7},{"s":"c14","x":8,"y":-0.3},{"s":"c14","x":18,"y":-0.1},
      {"s":"c15","x":-18,"y":0},{"s":"c15","x":-5.5,"y":-0.1},{"s":"c15","x":-4.5,"y":-2},{"s":"c15","x":-3.5,"y":-3.6},{"s":"c15","x":-2,"y":-3.8},{"s":"c15","x":-0.5,"y":-3.5},{"s":"c15","x":0.3,"y":-2},{"s":"c15","x":1,"y":-0.3},{"s":"c15","x":18,"y":0},
      {"s":"c16","x":-18,"y":0},{"s":"c16","x":-1,"y":-0.1},{"s":"c16","x":0,"y":-1.8},{"s":"c16","x":1,"y":-3.3},{"s":"c16","x":2.5,"y":-3.6},{"s":"c16","x":3.8,"y":-3.2},{"s":"c16","x":4.8,"y":-1.5},{"s":"c16","x":5.6,"y":-0.2},{"s":"c16","x":18,"y":0},
      {"s":"c17","x":-18,"y":0},{"s":"c17","x":-8.5,"y":-0.1},{"s":"c17","x":-7.3,"y":-1.2},{"s":"c17","x":-6,"y":-2},{"s":"c17","x":-4.7,"y":-1.3},{"s":"c17","x":-3.5,"y":-0.1},{"s":"c17","x":18,"y":0},
      {"s":"c18","x":-18,"y":0},{"s":"c18","x":2,"y":-0.1},{"s":"c18","x":3,"y":-1.5},{"s":"c18","x":4,"y":-2.6},{"s":"c18","x":5,"y":-2.8},{"s":"c18","x":6,"y":-2.2},{"s":"c18","x":7,"y":-0.8},{"s":"c18","x":7.8,"y":-0.1},{"s":"c18","x":18,"y":0},
      {"s":"c19","x":-18,"y":0},{"s":"c19","x":-6,"y":-0.1},{"s":"c19","x":-4.8,"y":-1.4},{"s":"c19","x":-3.2,"y":-2.3},{"s":"c19","x":-1.6,"y":-2},{"s":"c19","x":0,"y":-1},{"s":"c19","x":1,"y":-0.1},{"s":"c19","x":18,"y":0},
      {"s":"c20","x":-18,"y":0},{"s":"c20","x":3.5,"y":-0.1},{"s":"c20","x":4.5,"y":-1},{"s":"c20","x":5.5,"y":-1.9},{"s":"c20","x":6.5,"y":-2.1},{"s":"c20","x":7.5,"y":-1.4},{"s":"c20","x":8.3,"y":-0.3},{"s":"c20","x":18,"y":0},
      {"s":"c21","x":-18,"y":0},{"s":"c21","x":-11.5,"y":-0.1},{"s":"c21","x":-10.5,"y":-1},{"s":"c21","x":-9.5,"y":-1.9},{"s":"c21","x":-8.2,"y":-2},{"s":"c21","x":-7,"y":-1.2},{"s":"c21","x":-6,"y":-0.1},{"s":"c21","x":18,"y":0}
    ],
    "tb1667": [
      {"s":"obs","x":-18,"y":0.1},{"s":"obs","x":-17.5,"y":-0.2},{"s":"obs","x":-17,"y":0.25},{"s":"obs","x":-16.5,"y":0},{"s":"obs","x":-16,"y":-0.25},{"s":"obs","x":-15.5,"y":0.15},{"s":"obs","x":-15,"y":0.3},{"s":"obs","x":-14.5,"y":-0.1},{"s":"obs","x":-14,"y":0.2},{"s":"obs","x":-13.5,"y":-0.3},{"s":"obs","x":-13,"y":0.05},{"s":"obs","x":-12.5,"y":0.25},{"s":"obs","x":-12,"y":-0.15},{"s":"obs","x":-11.5,"y":0.1},{"s":"obs","x":-11,"y":-0.25},{"s":"obs","x":-10.5,"y":0.2},{"s":"obs","x":-10,"y":0},{"s":"obs","x":-9.5,"y":-0.2},{"s":"obs","x":-9,"y":0.3},{"s":"obs","x":-8.5,"y":-0.05},{"s":"obs","x":-8,"y":0.15},{"s":"obs","x":-7.5,"y":-0.3},{"s":"obs","x":-7,"y":0.1},{"s":"obs","x":-6.5,"y":0.25},{"s":"obs","x":-6,"y":-0.1},{"s":"obs","x":-5.5,"y":0.05},{"s":"obs","x":-5,"y":-0.25},{"s":"obs","x":-4.5,"y":0.2},{"s":"obs","x":-4,"y":-0.1},{"s":"obs","x":-3.5,"y":-0.35},{"s":"obs","x":-3,"y":-0.2},{"s":"obs","x":-2.5,"y":0.1},{"s":"obs","x":-2,"y":-0.15},{"s":"obs","x":-1.5,"y":0.2},{"s":"obs","x":-1,"y":-0.05},{"s":"obs","x":-0.5,"y":0.15},{"s":"obs","x":0,"y":-0.3},{"s":"obs","x":0.5,"y":0.1},{"s":"obs","x":1,"y":-0.2},{"s":"obs","x":1.5,"y":0.25},{"s":"obs","x":2,"y":0},{"s":"obs","x":2.5,"y":-0.25},{"s":"obs","x":3,"y":0.15},{"s":"obs","x":3.5,"y":-0.1},{"s":"obs","x":4,"y":0.3},{"s":"obs","x":4.5,"y":-0.15},{"s":"obs","x":5,"y":0.05},{"s":"obs","x":5.5,"y":0.2},{"s":"obs","x":6,"y":-0.2},{"s":"obs","x":6.5,"y":0.1},{"s":"obs","x":7,"y":0.3},{"s":"obs","x":7.5,"y":-0.1},{"s":"obs","x":8,"y":0.15},{"s":"obs","x":8.5,"y":-0.25},{"s":"obs","x":9,"y":0.2},{"s":"obs","x":9.5,"y":0.05},{"s":"obs","x":10,"y":-0.15},{"s":"obs","x":10.5,"y":0.3},{"s":"obs","x":11,"y":0.1},{"s":"obs","x":11.5,"y":-0.2},{"s":"obs","x":12,"y":0.25},{"s":"obs","x":12.5,"y":0},{"s":"obs","x":13,"y":0.3},{"s":"obs","x":13.5,"y":-0.15},{"s":"obs","x":14,"y":0.2},{"s":"obs","x":14.5,"y":0.05},{"s":"obs","x":15,"y":-0.2},{"s":"obs","x":15.5,"y":0.25},{"s":"obs","x":16,"y":0.1},{"s":"obs","x":16.5,"y":-0.15},{"s":"obs","x":17,"y":0.2},{"s":"obs","x":17.5,"y":-0.05},{"s":"obs","x":18,"y":0.1},
      {"s":"n1","x":-18,"y":0.5},{"s":"n1","x":-14,"y":0.6},{"s":"n1","x":-10,"y":0.4},{"s":"n1","x":-6,"y":0.55},{"s":"n1","x":-2,"y":0.35},{"s":"n1","x":2,"y":0.5},{"s":"n1","x":6,"y":0.45},{"s":"n1","x":10,"y":0.6},{"s":"n1","x":14,"y":0.5},{"s":"n1","x":18,"y":0.55},
      {"s":"n2","x":-18,"y":-0.4},{"s":"n2","x":-13,"y":-0.5},{"s":"n2","x":-8,"y":-0.35},{"s":"n2","x":-3,"y":-0.6},{"s":"n2","x":2,"y":-0.5},{"s":"n2","x":7,"y":-0.4},{"s":"n2","x":12,"y":-0.55},{"s":"n2","x":18,"y":-0.4},
      {"s":"n3","x":-18,"y":0},{"s":"n3","x":18,"y":0},
      {"s":"n4","x":-18,"y":0.25},{"s":"n4","x":-12,"y":0.2},{"s":"n4","x":-6,"y":0.3},{"s":"n4","x":0,"y":0.15},{"s":"n4","x":6,"y":0.3},{"s":"n4","x":12,"y":0.25},{"s":"n4","x":18,"y":0.2},
      {"s":"n5","x":-18,"y":-0.2},{"s":"n5","x":-12,"y":-0.25},{"s":"n5","x":-6,"y":-0.15},{"s":"n5","x":0,"y":-0.3},{"s":"n5","x":6,"y":-0.2},{"s":"n5","x":12,"y":-0.25},{"s":"n5","x":18,"y":-0.15},
      {"s":"up","x":-18,"y":0},{"s":"up","x":9.5,"y":0.1},{"s":"up","x":10.1,"y":0.6},{"s":"up","x":10.6,"y":2.5},{"s":"up","x":11.1,"y":6},{"s":"up","x":11.6,"y":8.8},{"s":"up","x":12.1,"y":9.7},{"s":"up","x":12.6,"y":8.8},{"s":"up","x":13.1,"y":6},{"s":"up","x":13.6,"y":2.5},{"s":"up","x":14.1,"y":0.3},{"s":"up","x":14.6,"y":-1.2},{"s":"up","x":15.1,"y":-2.3},{"s":"up","x":15.6,"y":-1.8},{"s":"up","x":16.2,"y":-0.5},{"s":"up","x":16.7,"y":0},{"s":"up","x":18,"y":0},
      {"s":"d1","x":-18,"y":0},{"s":"d1","x":-14.5,"y":-0.1},{"s":"d1","x":-13.5,"y":-1.5},{"s":"d1","x":-12.5,"y":-2.8},{"s":"d1","x":-11.5,"y":-3.2},{"s":"d1","x":-10.5,"y":-2.5},{"s":"d1","x":-9.5,"y":-1},{"s":"d1","x":-8.8,"y":-0.1},{"s":"d1","x":18,"y":0},
      {"s":"d2","x":-18,"y":-0.2},{"s":"d2","x":-11,"y":-0.3},{"s":"d2","x":-10.3,"y":-1.8},{"s":"d2","x":-9.6,"y":-3.6},{"s":"d2","x":-8,"y":-3.8},{"s":"d2","x":-7.2,"y":-3.6},{"s":"d2","x":-6.7,"y":-2},{"s":"d2","x":-6.2,"y":-0.5},{"s":"d2","x":-5.6,"y":0},{"s":"d2","x":18,"y":0},
      {"s":"d3","x":-18,"y":-0.5},{"s":"d3","x":-15,"y":-0.8},{"s":"d3","x":-13,"y":-1.2},{"s":"d3","x":-11,"y":-1.5},{"s":"d3","x":-9,"y":-1.8},{"s":"d3","x":-7,"y":-1.6},{"s":"d3","x":-5,"y":-1},{"s":"d3","x":-3,"y":-0.4},{"s":"d3","x":-1,"y":0},{"s":"d3","x":18,"y":0},
      {"s":"d4","x":-18,"y":0},{"s":"d4","x":-8.5,"y":-0.1},{"s":"d4","x":-7.5,"y":-1.8},{"s":"d4","x":-6.5,"y":-3.5},{"s":"d4","x":-5,"y":-4},{"s":"d4","x":-3,"y":-3.9},{"s":"d4","x":-2,"y":-3},{"s":"d4","x":-1.2,"y":-1},{"s":"d4","x":-0.5,"y":0},{"s":"d4","x":18,"y":0},
      {"s":"d5","x":-18,"y":0},{"s":"d5","x":-5,"y":-0.1},{"s":"d5","x":-4,"y":-2},{"s":"d5","x":-3,"y":-3.7},{"s":"d5","x":-1,"y":-4.1},{"s":"d5","x":2,"y":-4},{"s":"d5","x":3.5,"y":-3.8},{"s":"d5","x":4.5,"y":-2.5},{"s":"d5","x":5.3,"y":-0.7},{"s":"d5","x":6,"y":0},{"s":"d5","x":18,"y":0},
      {"s":"d6","x":-18,"y":0},{"s":"d6","x":-2,"y":-0.1},{"s":"d6","x":-0.5,"y":-2},{"s":"d6","x":1,"y":-3.3},{"s":"d6","x":3,"y":-3.5},{"s":"d6","x":5,"y":-3.4},{"s":"d6","x":6.5,"y":-3},{"s":"d6","x":7.5,"y":-1.5},{"s":"d6","x":8.3,"y":-0.3},{"s":"d6","x":9,"y":0},{"s":"d6","x":18,"y":0},
      {"s":"d7","x":-18,"y":0},{"s":"d7","x":1.5,"y":-0.1},{"s":"d7","x":3,"y":-2.2},{"s":"d7","x":4.5,"y":-3.6},{"s":"d7","x":6,"y":-3.8},{"s":"d7","x":7,"y":-3.5},{"s":"d7","x":7.8,"y":-2.3},{"s":"d7","x":8.5,"y":-0.8},{"s":"d7","x":9.2,"y":0},{"s":"d7","x":18,"y":0},
      {"s":"d8","x":-18,"y":-0.3},{"s":"d8","x":-12,"y":-0.8},{"s":"d8","x":-6,"y":-1.5},{"s":"d8","x":0,"y":-2},{"s":"d8","x":5,"y":-1.8},{"s":"d8","x":8,"y":-1},{"s":"d8","x":10,"y":-0.2},{"s":"d8","x":18,"y":0},
      {"s":"d9","x":-18,"y":0},{"s":"d9","x":-6.5,"y":-0.2},{"s":"d9","x":-5.5,"y":-1.5},{"s":"d9","x":-4.5,"y":-2.8},{"s":"d9","x":-3.5,"y":-3.2},{"s":"d9","x":-2.5,"y":-2.5},{"s":"d9","x":-1.5,"y":-1},{"s":"d9","x":-0.5,"y":-0.1},{"s":"d9","x":18,"y":0},
      {"s":"d10","x":-18,"y":0},{"s":"d10","x":3,"y":-0.2},{"s":"d10","x":4.5,"y":-1.2},{"s":"d10","x":6,"y":-2.4},{"s":"d10","x":7.3,"y":-2.8},{"s":"d10","x":8.3,"y":-2.2},{"s":"d10","x":9.2,"y":-1},{"s":"d10","x":9.8,"y":-0.2},{"s":"d10","x":18,"y":0},
      {"s":"d11","x":-18,"y":0},{"s":"d11","x":-16,"y":-0.1},{"s":"d11","x":-15.2,"y":-1.2},{"s":"d11","x":-14.5,"y":-2.6},{"s":"d11","x":-13,"y":-3.1},{"s":"d11","x":-11.5,"y":-2.9},{"s":"d11","x":-10.8,"y":-2},{"s":"d11","x":-10.2,"y":-0.6},{"s":"d11","x":-9.6,"y":0},{"s":"d11","x":18,"y":0},
      {"s":"d12","x":-18,"y":-0.1},{"s":"d12","x":-10,"y":-0.2},{"s":"d12","x":-8,"y":-1},{"s":"d12","x":-5,"y":-2.2},{"s":"d12","x":-2,"y":-2.6},{"s":"d12","x":1,"y":-2.4},{"s":"d12","x":4,"y":-1.6},{"s":"d12","x":7,"y":-0.6},{"s":"d12","x":9,"y":-0.1},{"s":"d12","x":18,"y":0},
      {"s":"d13","x":-18,"y":0},{"s":"d13","x":-1.5,"y":-0.1},{"s":"d13","x":-0.6,"y":-2},{"s":"d13","x":0.3,"y":-3.8},{"s":"d13","x":2,"y":-4.1},{"s":"d13","x":3.5,"y":-3.9},{"s":"d13","x":4.3,"y":-2.3},{"s":"d13","x":5,"y":-0.5},{"s":"d13","x":5.5,"y":0},{"s":"d13","x":18,"y":0},
      {"s":"d14","x":-18,"y":0},{"s":"d14","x":9.5,"y":-0.2},{"s":"d14","x":10.5,"y":-0.6},{"s":"d14","x":12,"y":-0.4},{"s":"d14","x":13.5,"y":-0.6},{"s":"d14","x":15,"y":-0.2},{"s":"d14","x":18,"y":0},
      {"s":"d15","x":-18,"y":0},{"s":"d15","x":-4,"y":-0.1},{"s":"d15","x":-3,"y":-1.6},{"s":"d15","x":-2,"y":-2.8},{"s":"d15","x":-0.5,"y":-3},{"s":"d15","x":1,"y":-2.6},{"s":"d15","x":2,"y":-1.4},{"s":"d15","x":3,"y":-0.2},{"s":"d15","x":18,"y":0},
      {"s":"d16","x":-18,"y":0},{"s":"d16","x":0,"y":-0.1},{"s":"d16","x":1.5,"y":-1.8},{"s":"d16","x":3,"y":-3},{"s":"d16","x":4.5,"y":-3.1},{"s":"d16","x":5.8,"y":-2.4},{"s":"d16","x":6.8,"y":-1},{"s":"d16","x":7.6,"y":-0.1},{"s":"d16","x":18,"y":0},
      {"s":"d17","x":-18,"y":0},{"s":"d17","x":-9,"y":-0.1},{"s":"d17","x":-8,"y":-1.4},{"s":"d17","x":-6.8,"y":-2.4},{"s":"d17","x":-5.5,"y":-2.6},{"s":"d17","x":-4.3,"y":-1.8},{"s":"d17","x":-3.3,"y":-0.5},{"s":"d17","x":-2.5,"y":0},{"s":"d17","x":18,"y":0},
      {"s":"d18","x":-18,"y":0},{"s":"d18","x":4.5,"y":-0.1},{"s":"d18","x":5.5,"y":-1.3},{"s":"d18","x":6.8,"y":-2.1},{"s":"d18","x":8,"y":-1.9},{"s":"d18","x":9,"y":-1},{"s":"d18","x":9.8,"y":-0.2},{"s":"d18","x":18,"y":0},
      {"s":"d19","x":-18,"y":-0.8},{"s":"d19","x":-17,"y":-1.5},{"s":"d19","x":-15.5,"y":-1.6},{"s":"d19","x":-14.5,"y":-1},{"s":"d19","x":-13.5,"y":-0.3},{"s":"d19","x":-12.5,"y":0},{"s":"d19","x":18,"y":0}
    ]
  },
  "vconcat": [
    {
      "width": 1103, "height": 65,
      "title": {"text": "×10²¹", "offset": -6},
      "data": {"name": "tau1612"},
      "encoding": {
        "x": {"field": "x", "type": "quantitative", "scale": {"domain": [-22, 22], "nice": false, "zero": false}, "axis": {"values": [-20, -15, -10, -5, 0, 5, 10, 15, 20], "format": "d", "title": "VLSR (km s⁻¹)"}},
        "y": {"field": "y", "type": "quantitative", "scale": {"domain": [-1.127, 0.06], "nice": false, "zero": false}, "axis": {"values": [-1, 0], "format": "d", "title": "1 − exp(−τ₁₆₁₂)"}}
      },
      "layer": [
        {"transform": [{"filter": "datum.s !== 'obs'"}], "mark": {"type": "line", "color": "#8000ff", "opacity": 0.5, "strokeWidth": 2.4, "interpolate": "monotone", "clip": true}, "encoding": {"detail": {"field": "s"}}},
        {"transform": [{"filter": "datum.s === 'obs'"}], "mark": {"type": "line", "color": "black", "strokeWidth": 2, "clip": true}}
      ]
    },
    {
      "width": 1103, "height": 65,
      "title": {"text": "×10²¹", "offset": 3.3},
      "data": {"name": "tb1612"},
      "encoding": {
        "x": {"field": "x", "type": "quantitative", "scale": {"domain": [-22, 22], "nice": false, "zero": false}, "axis": {"values": [-20, -15, -10, -5, 0, 5, 10, 15, 20], "format": "d", "title": "VLSR (km s⁻¹)"}},
        "y": {"field": "y", "type": "quantitative", "scale": {"domain": [-0.207, 4.34], "nice": false, "zero": false}, "axis": {"values": [0, 2.5], "format": ".1f", "title": "TB,1612", "titleFontSize": 18}}
      },
      "layer": [
        {"transform": [{"filter": "datum.s !== 'obs'"}], "mark": {"type": "line", "color": "#8000ff", "opacity": 0.5, "strokeWidth": 2.4, "interpolate": "monotone", "clip": true}, "encoding": {"detail": {"field": "s"}}},
        {"transform": [{"filter": "datum.s === 'obs'"}], "mark": {"type": "line", "color": "black", "strokeWidth": 2, "clip": true}}
      ]
    },
    {
      "width": 1103, "height": 65,
      "data": {"name": "tau1665"},
      "encoding": {
        "x": {"field": "x", "type": "quantitative", "scale": {"domain": [-19.8, 19.8], "nice": false, "zero": false}, "axis": {"values": [-15, -10, -5, 0, 5, 10, 15], "format": "d", "title": "VLSR (km s⁻¹)"}},
        "y": {"field": "y", "type": "quantitative", "scale": {"domain": [-0.091, 1.091], "nice": false, "zero": false}, "axis": {"values": [0, 1], "format": "d", "title": "1 − exp(−τ₁₆₆₅)"}}
      },
      "layer": [
        {"transform": [{"filter": "datum.s !== 'obs'"}], "mark": {"type": "line", "color": "#8000ff", "opacity": 0.5, "strokeWidth": 2.4, "interpolate": "monotone", "clip": true}, "encoding": {"detail": {"field": "s"}}},
        {"transform": [{"filter": "datum.s === 'obs'"}], "mark": {"type": "line", "color": "black", "strokeWidth": 2, "interpolate": "monotone", "clip": true}}
      ]
    },
    {
      "width": 1103, "height": 65,
      "data": {"name": "tb1665"},
      "encoding": {
        "x": {"field": "x", "type": "quantitative", "scale": {"domain": [-19.8, 19.8], "nice": false, "zero": false}, "axis": {"values": [-15, -10, -5, 0, 5, 10, 15], "format": "d", "title": "VLSR (km s⁻¹)"}},
        "y": {"field": "y", "type": "quantitative", "scale": {"domain": [-4.49, 3.26], "nice": false, "zero": false}, "axis": {"values": [-2.5, 0, 2.5], "format": ".1f", "title": "TB,1665", "titleFontSize": 18}}
      },
      "layer": [
        {"transform": [{"filter": "datum.s !== 'obs'"}], "mark": {"type": "line", "color": "#8000ff", "opacity": 0.5, "strokeWidth": 2.4, "interpolate": "monotone", "clip": true}, "encoding": {"detail": {"field": "s"}}},
        {"transform": [{"filter": "datum.s === 'obs'"}], "mark": {"type": "line", "color": "black", "strokeWidth": 1.8, "clip": true}}
      ]
    },
    {
      "width": 1103, "height": 65,
      "data": {"name": "tau1667"},
      "encoding": {
        "x": {"field": "x", "type": "quantitative", "scale": {"domain": [-19.8, 19.8], "nice": false, "zero": false}, "axis": {"values": [-15, -10, -5, 0, 5, 10, 15], "format": "d", "title": "VLSR (km s⁻¹)"}},
        "y": {"field": "y", "type": "quantitative", "scale": {"domain": [-0.11, 1.085], "nice": false, "zero": false}, "axis": {"values": [0, 1], "format": "d", "title": "1 − exp(−τ₁₆₆₇)"}}
      },
      "layer": [
        {"transform": [{"filter": "datum.s !== 'obs'"}], "mark": {"type": "line", "color": "#8000ff", "opacity": 0.5, "strokeWidth": 2.4, "interpolate": "monotone", "clip": true}, "encoding": {"detail": {"field": "s"}}},
        {"transform": [{"filter": "datum.s === 'obs'"}], "mark": {"type": "line", "color": "black", "strokeWidth": 2, "interpolate": "monotone", "clip": true}}
      ]
    },
    {
      "width": 1103, "height": 65,
      "data": {"name": "tb1667"},
      "encoding": {
        "x": {"field": "x", "type": "quantitative", "scale": {"domain": [-19.8, 19.8], "nice": false, "zero": false}, "axis": {"values": [-15, -10, -5, 0, 5, 10, 15], "format": "d", "title": "VLSR (km s⁻¹)"}},
        "y": {"field": "y", "type": "quantitative", "scale": {"domain": [-4.95, 10.4], "nice": false, "zero": false}, "axis": {"values": [0, 10], "format": "d", "title": "TB,1667", "titleFontSize": 18}}
      },
      "layer": [
        {"transform": [{"filter": "datum.s !== 'obs'"}], "mark": {"type": "line", "color": "#8000ff", "opacity": 0.5, "strokeWidth": 2.4, "interpolate": "monotone", "clip": true}, "encoding": {"detail": {"field": "s"}}},
        {"transform": [{"filter": "datum.s === 'obs'"}], "mark": {"type": "line", "color": "black", "strokeWidth": 1.8, "clip": true}}
      ]
    },
    {
      "width": 1103, "height": 65,
      "title": {"text": "×10¹⁰", "offset": -4},
      "data": {"name": "tau1720"},
      "encoding": {
        "x": {"field": "x", "type": "quantitative", "scale": {"domain": [-16.5, 16.5], "nice": false, "zero": false}, "axis": {"values": [-15, -10, -5, 0, 5, 10, 15], "format": "d", "title": "VLSR (km s⁻¹)"}},
        "y": {"field": "y", "type": "quantitative", "scale": {"domain": [-1.88, 0.06], "nice": false, "zero": false}, "axis": {"values": [-1, 0], "format": "d", "title": "1 − exp(−τ₁₇₂₀)"}}
      },
      "layer": [
        {"transform": [{"filter": "datum.s !== 'obs'"}], "mark": {"type": "line", "color": "#8000ff", "opacity": 0.5, "strokeWidth": 2.4, "interpolate": "monotone", "clip": true}, "encoding": {"detail": {"field": "s"}}},
        {"transform": [{"filter": "datum.s === 'obs'"}], "mark": {"type": "line", "color": "black", "strokeWidth": 2, "clip": true}}
      ]
    },
    {
      "width": 1103, "height": 65,
      "title": {"text": "×10¹⁰", "offset": 3},
      "data": {"name": "tb1720"},
      "encoding": {
        "x": {"field": "x", "type": "quantitative", "scale": {"domain": [-16.5, 16.5], "nice": false, "zero": false}, "axis": {"values": [-15, -10, -5, 0, 5, 10, 15], "format": "d", "title": "VLSR (km s⁻¹)"}},
        "y": {"field": "y", "type": "quantitative", "scale": {"domain": [-0.34, 7.06], "nice": false, "zero": false}, "axis": {"values": [0, 5], "format": "d", "title": "TB,1720", "titleFontSize": 18}}
      },
      "layer": [
        {"transform": [{"filter": "datum.s !== 'obs'"}], "mark": {"type": "line", "color": "#8000ff", "opacity": 0.5, "strokeWidth": 2.4, "interpolate": "monotone", "clip": true}, "encoding": {"detail": {"field": "s"}}},
        {"transform": [{"filter": "datum.s === 'obs'"}], "mark": {"type": "line", "color": "black", "strokeWidth": 2, "clip": true}}
      ]
    }
  ]
}
